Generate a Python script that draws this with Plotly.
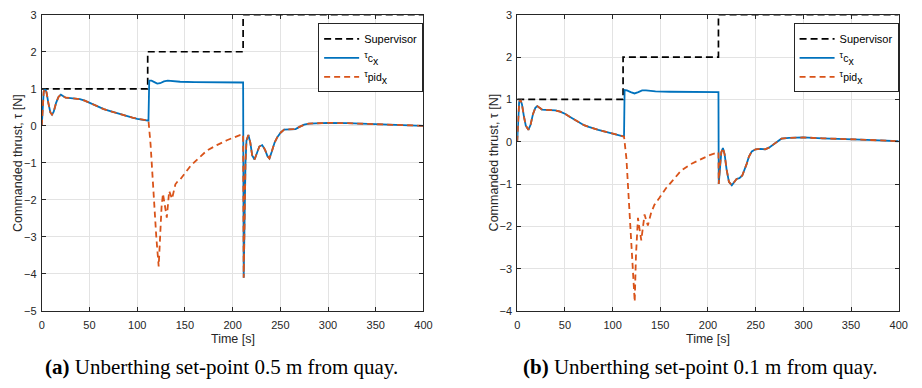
import plotly.graph_objects as go

# ---------------- data: panel (a) ----------------
a_sup_t = [0, 111, 111, 211, 211, 400]
a_sup_v = [1, 1, 2, 2, 3, 3]

a_early_t = [0, 1, 2, 3.5, 5, 7, 9, 10.7, 12.5, 15, 17.5, 20, 22, 25, 30, 35, 40, 45, 50, 55, 60,
             65, 70, 75, 80, 85, 90, 95, 100, 105, 110, 111.8]
a_early_v = [0.0, 0.6, 0.92, 1.0, 0.9, 0.6, 0.36, 0.30, 0.38, 0.62, 0.78, 0.84, 0.80, 0.76, 0.75, 0.74, 0.72,
             0.68, 0.62, 0.56, 0.50, 0.45, 0.41, 0.37, 0.32, 0.28, 0.25, 0.22, 0.19, 0.17, 0.15, 0.14]

a_c_mid_t = [112.6, 115, 118, 121, 124, 128, 132, 136, 145, 160, 180, 200, 211]
a_c_mid_v = [1.22, 1.22, 1.18, 1.14, 1.15, 1.20, 1.22, 1.21, 1.19, 1.18, 1.175, 1.17, 1.17]

a_pid_mid_t = [114, 116, 118, 120, 122.5, 124, 125.5, 127, 129, 131, 133.5, 136.5, 140, 143, 145, 150,
               156, 164.5, 173, 183.5, 194, 207.6, 211]
a_pid_mid_v = [-0.5, -1.4, -2.2, -3.0, -3.8, -2.9, -2.2, -1.83, -2.15, -2.48, -1.76, -1.97, -1.58, -1.48,
               -1.45, -1.28, -1.08, -0.87, -0.67, -0.52, -0.39, -0.25, -0.23]

a_late_t = [211.6, 212.5, 213.5, 214.5, 216.5, 218.5, 220.5, 223, 225.5, 228, 231, 234, 236.5, 238.6, 241,
            244, 247, 250.5, 254, 258, 262, 266, 270, 275, 280, 290, 300, 320, 340, 360, 380, 400]
a_late_v = [-4.1, -2.5, -1.0, -0.4, -0.25, -0.45, -0.8, -0.91, -0.75, -0.56, -0.52, -0.65, -0.82, -0.88,
            -0.7, -0.45, -0.3, -0.18, -0.1, -0.1, -0.11, -0.09, -0.03, 0.03, 0.06, 0.08, 0.08, 0.07,
            0.05, 0.03, 0.02, 0.0]

# ---------------- data: panel (b) ----------------
b_sup_t = [0, 111, 111, 211, 211, 400]
b_sup_v = [1, 1, 2, 2, 3, 3]

b_early_t = [0, 1, 2, 3.3, 5, 7, 9, 11.7, 14, 16.5, 19, 21, 23, 26, 30, 35, 40, 45, 50, 55, 60, 65, 70,
             75, 80, 85, 90, 95, 100, 105, 112]
b_early_v = [0.0, 0.6, 0.93, 1.0, 0.88, 0.6, 0.38, 0.28, 0.4, 0.65, 0.8, 0.84, 0.8, 0.76, 0.75, 0.75,
             0.74, 0.71, 0.66, 0.59, 0.52, 0.45, 0.39, 0.35, 0.31, 0.28, 0.25, 0.22, 0.19, 0.16, 0.12]

b_c_mid_t = [112.6, 115, 119, 123, 127, 131, 135, 145, 160, 185, 211]
b_c_mid_v = [1.22, 1.21, 1.17, 1.14, 1.17, 1.21, 1.21, 1.19, 1.18, 1.175, 1.17]

b_pid_mid_t = [114.5, 116.3, 118, 120, 122, 123.2, 124.5, 126.6, 128.5, 130.1, 133.5, 137, 140.4, 143.9,
               149, 156, 162.9, 171.6, 181.9, 192.3, 202.6, 211]
b_pid_mid_v = [-0.4, -1.07, -1.7, -2.5, -3.3, -3.78, -2.7, -1.8, -2.1, -2.33, -1.72, -1.98, -1.68, -1.49,
               -1.33, -1.1, -0.92, -0.69, -0.53, -0.42, -0.31, -0.25]

b_late_t = [211.3, 212.5, 214, 215.7, 217.5, 219.5, 222, 225, 227.5, 230, 233, 236, 240.5, 243, 246, 250,
            255, 260, 264, 268, 272, 277, 285, 300, 320, 340, 360, 380, 400]
b_late_v = [-1.0, -0.6, -0.25, -0.15, -0.3, -0.65, -0.95, -1.03, -0.95, -0.88, -0.86, -0.8, -0.53, -0.35,
            -0.23, -0.18, -0.17, -0.18, -0.14, -0.08, 0.0, 0.07, 0.09, 0.1, 0.08, 0.07, 0.05, 0.03, 0.01]

x_ticks = [0, 50, 100, 150, 200, 250, 300, 350, 400]
a_y_ticks = [-5, -4, -3, -2, -1, 0, 1, 2, 3]
b_y_ticks = [-4, -3, -2, -1, 0, 1, 2, 3]

captions = ["<b>(a)</b> Unberthing set-point 0.5 m from quay.",
            "<b>(b)</b> Unberthing set-point 0.1 m from quay."]
names = ["Supervisor",
         "<sup><span style='font-size:9px'>τ</span></sup><span style='font-size:10.5px'>c</span>"
         "<sub><span style='font-size:10.5px'>x</span></sub>",
         "<sup><span style='font-size:9px'>τ</span></sup><span style='font-size:10.5px'>pid</span>"
         "<sub><span style='font-size:10.5px'>x</span></sub>"]

BLUE = "#0072BD"
ORANGE = "#D95319"
AX = "#262626"
SANS = "Liberation Sans, Arial, sans-serif"
SERIF = "Liberation Serif, Times New Roman, serif"

W, H = 922, 388
fig = go.Figure()

panels = [
    dict(xa="x", ya="y", leg="legend", sup=(a_sup_t, a_sup_v),
         c=(a_early_t + a_c_mid_t + a_late_t, a_early_v + a_c_mid_v + a_late_v),
         p=(a_early_t + a_pid_mid_t + a_late_t, a_early_v + a_pid_mid_v + a_late_v)),
    dict(xa="x2", ya="y2", leg="legend2", sup=(b_sup_t, b_sup_v),
         c=(b_early_t + b_c_mid_t + b_late_t, b_early_v + b_c_mid_v + b_late_v),
         p=(b_early_t + b_pid_mid_t + b_late_t, b_early_v + b_pid_mid_v + b_late_v)),
]
for P in panels:
    fig.add_trace(go.Scatter(x=P["sup"][0], y=P["sup"][1], mode="lines", name=names[0],
                             line=dict(color="black", width=1.7, dash="7px,4px"),
                             xaxis=P["xa"], yaxis=P["ya"], legend=P["leg"]))
    fig.add_trace(go.Scatter(x=P["c"][0], y=P["c"][1], mode="lines", name=names[1],
                             line=dict(color=BLUE, width=1.8),
                             xaxis=P["xa"], yaxis=P["ya"], legend=P["leg"]))
    fig.add_trace(go.Scatter(x=P["p"][0], y=P["p"][1], mode="lines", name=names[2],
                             line=dict(color=ORANGE, width=1.8, dash="6px,4px"),
                             xaxis=P["xa"], yaxis=P["ya"], legend=P["leg"]))

y_top, y_bot = 9, 314.7
ydom = [1 - y_bot / H, 1 - y_top / H]
axis_common = dict(showline=True, linecolor=AX, linewidth=1, mirror="ticks", ticks="inside",
                   ticklen=4, tickcolor=AX, showgrid=True, gridcolor="#e3e3e3", gridwidth=1,
                   zeroline=False, tickfont=dict(family=SANS, size=11, color=AX))
xa_pos = [(39.3, 426.0), (521.0, 907.5)]
fig.update_layout(
    xaxis=dict(domain=[xa_pos[0][0] / W, xa_pos[0][1] / W], range=[0, 400], tickvals=x_ticks,
               anchor="y", ticklabelstandoff=4, **axis_common),
    yaxis=dict(domain=ydom, range=[-5, 3], tickvals=a_y_ticks, anchor="x", ticklabelstandoff=2,
               **axis_common),
    xaxis2=dict(domain=[xa_pos[1][0] / W, xa_pos[1][1] / W], range=[0, 400], tickvals=x_ticks,
                anchor="y2", ticklabelstandoff=4, **axis_common),
    yaxis2=dict(domain=ydom, range=[-4, 3], tickvals=b_y_ticks, anchor="x2", ticklabelstandoff=2,
                **axis_common),
)

leg_common = dict(bgcolor="white", bordercolor=AX, borderwidth=1, font=dict(family=SANS, size=11, color="black"),
                  itemwidth=35, yanchor="top", xanchor="left", tracegroupgap=0)
fig.update_layout(
    legend=dict(x=319.3 / W, y=1 - 18 / H, **leg_common),
    legend2=dict(x=801 / W, y=1 - 18 / H, **leg_common),
)

ann = []
for i, (x0, x1) in enumerate(xa_pos):
    xc = (x0 + x1) / 2
    ann.append(dict(text="Time [s]", x=xc / W, y=1 - 344 / H, xref="paper", yref="paper",
                    showarrow=False, xanchor="center", yanchor="middle",
                    font=dict(family=SANS, size=12.5, color=AX)))
    ann.append(dict(text="Commanded thrust, τ [N]", x=(x0 - 24) / W, y=1 - ((y_top + y_bot) / 2) / H,
                    xref="paper", yref="paper", showarrow=False, textangle=-90,
                    xanchor="center", yanchor="middle", font=dict(family=SANS, size=12.5, color=AX)))
cap_x = [221, 706]
for i in range(2):
    ann.append(dict(text=captions[i], x=cap_x[i] / W, y=1 - 373 / H, xref="paper", yref="paper",
                    showarrow=False, xanchor="center", yanchor="middle",
                    font=dict(family=SERIF, size=21, color="black")))

fig.update_layout(width=W, height=H, margin=dict(l=0, r=0, t=0, b=0), autosize=False,
                  paper_bgcolor="white", plot_bgcolor="white", annotations=ann, showlegend=True)

fig.write_html("out.html")
